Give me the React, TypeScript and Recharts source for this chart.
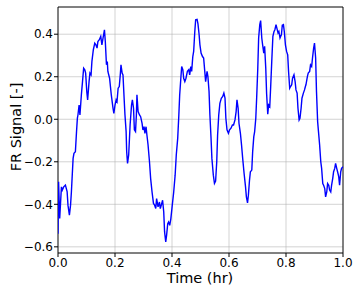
import React from "react";
import {
  LineChart,
  Line,
  XAxis,
  YAxis,
  CartesianGrid,
  ReferenceArea,
  Customized,
} from "recharts";

const timeHr = [
  0.0, 0.002, 0.006, 0.012, 0.015, 0.02, 0.026, 0.032, 0.035, 0.04, 0.044, 0.047,
  0.053, 0.056, 0.061, 0.065, 0.068, 0.07, 0.074, 0.077, 0.082, 0.086, 0.09, 0.094,
  0.097, 0.101, 0.104, 0.109, 0.112, 0.116, 0.119, 0.124, 0.129, 0.133, 0.137, 0.14,
  0.145, 0.15, 0.154, 0.158, 0.163, 0.166, 0.17, 0.173, 0.175, 0.181, 0.187, 0.193,
  0.196, 0.2, 0.204, 0.207, 0.211, 0.215, 0.219, 0.221, 0.225, 0.228, 0.232, 0.235,
  0.239, 0.241, 0.244, 0.248, 0.253, 0.258, 0.261, 0.265, 0.268, 0.272, 0.275, 0.277,
  0.281, 0.286, 0.29, 0.295, 0.298, 0.302, 0.305, 0.309, 0.312, 0.316, 0.321, 0.325,
  0.33, 0.335, 0.339, 0.343, 0.346, 0.351, 0.356, 0.359, 0.364, 0.367, 0.371, 0.374,
  0.378, 0.381, 0.385, 0.388, 0.392, 0.396, 0.401, 0.406, 0.411, 0.415, 0.42, 0.424,
  0.427, 0.431, 0.434, 0.438, 0.441, 0.445, 0.449, 0.454, 0.459, 0.462, 0.466, 0.469,
  0.473, 0.476, 0.48, 0.483, 0.488, 0.491, 0.495, 0.498, 0.502, 0.507, 0.511, 0.515,
  0.518, 0.523, 0.526, 0.53, 0.533, 0.537, 0.54, 0.545, 0.549, 0.553, 0.557, 0.56,
  0.564, 0.568, 0.573, 0.578, 0.582, 0.586, 0.589, 0.593, 0.598, 0.602, 0.607, 0.612,
  0.616, 0.621, 0.625, 0.628, 0.632, 0.635, 0.64, 0.644, 0.648, 0.653, 0.658, 0.661,
  0.665, 0.668, 0.672, 0.675, 0.68, 0.683, 0.687, 0.69, 0.694, 0.697, 0.701, 0.704,
  0.708, 0.711, 0.715, 0.718, 0.722, 0.725, 0.729, 0.732, 0.736, 0.739, 0.743, 0.746,
  0.75, 0.754, 0.758, 0.761, 0.765, 0.768, 0.772, 0.775, 0.779, 0.784, 0.787, 0.791,
  0.794, 0.798, 0.802, 0.806, 0.809, 0.813, 0.816, 0.82, 0.823, 0.828, 0.832, 0.835,
  0.839, 0.842, 0.846, 0.849, 0.853, 0.856, 0.861, 0.865, 0.868, 0.87, 0.875, 0.878,
  0.883, 0.886, 0.89, 0.893, 0.897, 0.9, 0.904, 0.907, 0.911, 0.914, 0.918, 0.922,
  0.925, 0.929, 0.932, 0.936, 0.939, 0.943, 0.946, 0.95, 0.953, 0.957, 0.96, 0.964,
  0.967, 0.971, 0.974, 0.978, 0.981, 0.985, 0.988, 0.992, 0.995, 1.0,
];

const frSignal = [
  -0.538, -0.294, -0.467, -0.318, -0.333, -0.318, -0.31, -0.34, -0.404, -0.451, -0.404, -0.342,
  -0.184, -0.16, -0.153, -0.058, 0.005, 0.02, 0.067, 0.02, 0.115, 0.177, 0.24, 0.233,
  0.217, 0.13, 0.091, 0.177, 0.217, 0.209, 0.272, 0.327, 0.358, 0.35, 0.335, 0.366,
  0.374, 0.39, 0.35, 0.382, 0.421, 0.366, 0.256, 0.272, 0.225, 0.193, 0.115, 0.052,
  0.028, 0.067, 0.091, 0.083, 0.146, 0.154, 0.217, 0.256, 0.217, 0.209, 0.099, 0.02,
  -0.058, -0.153, -0.208, -0.168, -0.027, 0.067, 0.091, 0.052, -0.05, -0.058, 0.02, 0.115,
  0.036, 0.02, 0.012, -0.019, -0.05, -0.035, -0.066, -0.035, -0.074, -0.121, -0.2, -0.278,
  -0.342, -0.396, -0.404, -0.42, -0.373, -0.412, -0.389, -0.42, -0.396, -0.381, -0.436, -0.53,
  -0.577, -0.546, -0.491, -0.483, -0.499, -0.467, -0.404, -0.342, -0.263, -0.168, -0.09, 0.02,
  0.115, 0.193, 0.248, 0.233, 0.193, 0.177, 0.193, 0.225, 0.233, 0.209, 0.248, 0.225,
  0.295, 0.319, 0.413, 0.468, 0.47, 0.45, 0.4, 0.35, 0.311, 0.295, 0.288, 0.225,
  0.177, 0.225, 0.201, 0.13, 0.02, -0.09, -0.184, -0.263, -0.302, -0.291, -0.2, -0.074,
  0.02, 0.075, 0.099, 0.107, 0.123, 0.099, 0.005, -0.05, -0.066, -0.05, -0.042, -0.027,
  -0.027, -0.003, 0.036, 0.091, 0.052, -0.019, -0.066, -0.121, -0.184, -0.255, -0.318, -0.365,
  -0.393, -0.357, -0.286, -0.247, -0.239, -0.153, -0.082, -0.058, 0.005, 0.099, 0.24, 0.382,
  0.445, 0.464, 0.382, 0.35, 0.311, 0.343, 0.24, 0.12, 0.024, 0.067, 0.059, 0.146,
  0.272, 0.39, 0.413, 0.421, 0.445, 0.429, 0.406, 0.413, 0.382, 0.398, 0.442, 0.445,
  0.413, 0.35, 0.319, 0.303, 0.225, 0.146, 0.154, 0.162, 0.193, 0.209, 0.177, 0.138,
  0.123, 0.052, -0.003, 0.005, 0.052, 0.099, 0.123, 0.138, 0.154, 0.162, 0.201, 0.217,
  0.225, 0.256, 0.248, 0.288, 0.335, 0.358, 0.288, 0.13, -0.011, -0.058, -0.121, -0.2,
  -0.231, -0.302, -0.31, -0.326, -0.365, -0.342, -0.302, -0.31, -0.333, -0.342, -0.31, -0.278,
  -0.247, -0.231, -0.208, -0.231, -0.247, -0.27, -0.31, -0.247, -0.231, -0.223,
];

const xTicks = [0, 0.2, 0.4, 0.6, 0.8, 1.0];
const yTicks = [-0.6, -0.4, -0.2, 0, 0.2, 0.4];
const xLabel = "Time (hr)";
const yLabel = "FR Signal [-]";

const Y_MIN = -0.629;
const Y_MAX = 0.528;

const data = timeHr.map((t, i) => ({ t, v: frSignal[i] }));

const FONT = "'DejaVu Sans', sans-serif";

const fmt = (v: number) => {
  const s = v.toFixed(1);
  return s.startsWith("-") ? "\u2212" + s.slice(1) : s;
};

const Labels = () => (
  <g>
    <text
      x={200}
      y={283}
      textAnchor="middle"
      fontFamily={FONT}
      fontSize={14.5}
      fill="#000"
    >
      {xLabel}
    </text>
    <text
      x={21}
      y={127}
      textAnchor="middle"
      transform="rotate(-90 21 127)"
      fontFamily={FONT}
      fontSize={14.5}
      fill="#000"
    >
      {yLabel}
    </text>
  </g>
);

export default function App() {
  return (
    <div style={{ position: "absolute", left: 0, top: 0, width: 360, height: 293, background: "#fff" }}>
      <LineChart
        width={360}
        height={293}
        data={data}
        margin={{ top: 7, right: 17, bottom: 0, left: 0 }}
      >
        <CartesianGrid stroke="#b0b0b0" strokeWidth={0.8} strokeOpacity={0.7} />
        <XAxis
          dataKey="t"
          type="number"
          domain={[0, 1]}
          ticks={xTicks}
          tickFormatter={fmt}
          height={40}
          tickSize={4}
          tickMargin={1}
          stroke="#000"
          tick={{ fill: "#000", fontSize: 12, fontFamily: FONT }}
          axisLine={false}
          allowDataOverflow
        />
        <YAxis
          type="number"
          domain={[Y_MIN, Y_MAX]}
          ticks={yTicks}
          tickFormatter={fmt}
          width={58}
          tickSize={4}
          tickMargin={1}
          stroke="#000"
          tick={{ fill: "#000", fontSize: 12, fontFamily: FONT }}
          axisLine={false}
          allowDataOverflow
        />
        <Line
          type="linear"
          dataKey="v"
          stroke="#0000ff"
          strokeWidth={1.4}
          dot={false}
          isAnimationActive={false}
        />
        <ReferenceArea
          x1={0}
          x2={1}
          y1={Y_MIN}
          y2={Y_MAX}
          fill="none"
          stroke="#000"
          strokeWidth={0.9}
          ifOverflow="visible"
        />
        <Customized component={Labels} />
      </LineChart>
    </div>
  );
}
